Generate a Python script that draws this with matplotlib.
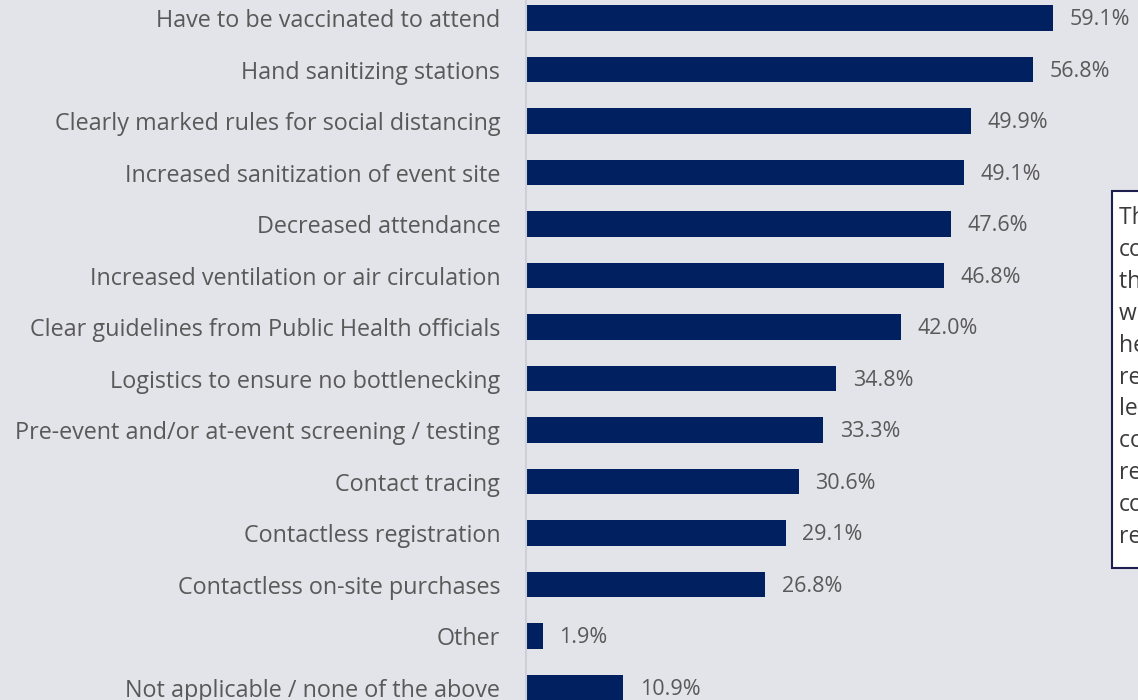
import matplotlib.pyplot as plt
from matplotlib.patches import Rectangle

# Survey: measures that would make attendees feel safer at events
measures = [
    "Have to be vaccinated to attend",
    "Hand sanitizing stations",
    "Clearly marked rules for social distancing",
    "Increased sanitization of event site",
    "Decreased attendance",
    "Increased ventilation or air circulation",
    "Clear guidelines from Public Health officials",
    "Logistics to ensure no bottlenecking",
    "Pre-event and/or at-event screening / testing",
    "Contact tracing",
    "Contactless registration",
    "Contactless on-site purchases",
    "Other",
    "Not applicable / none of the above",
]
shares = [59.1, 56.8, 49.9, 49.1, 47.6, 46.8, 42.0, 34.8, 33.3, 30.6, 29.1, 26.8, 1.9, 10.9]

note_lines = ["The two top", "considerations", "the vaccine", "would help", "helps them",
              "reduce their", "levels of", "concern and", "regain", "confidence",
              "returning"]

bg = "#e3e3ea"
navy = "#002060"
grey = "#595959"

plt.rcParams["font.family"] = ["Open Sans", "DejaVu Sans"]

fig = plt.figure(figsize=(11.38, 7.0), dpi=100, facecolor=bg)
ax = fig.add_axes([0.4622, 0.0, 0.5378, 1.0], facecolor=bg)

ypos = range(len(measures))
ax.barh(ypos, shares, height=0.5, color=navy, zorder=2)

for y, v in zip(ypos, shares):
    ax.text(v + 1.85, y + 0.03, f"{v:.1f}%", va="center", ha="left", fontsize=15.5, color=grey)

ax.set_yticks(list(ypos))
ax.set_yticklabels(measures, fontsize=16.8, color=grey)
ax.tick_params(axis="y", length=0, pad=18.5)
ax.set_xticks([])
ax.set_xlim(0, 68.6)
ax.set_ylim(13.24, -0.35)

for side in ["top", "right", "bottom"]:
    ax.spines[side].set_visible(False)
ax.spines["left"].set_color("#cfcfd8")
ax.spines["left"].set_linewidth(1.5)

# side note box running off the right edge
W, H = 1138, 700
box = Rectangle((1112 / W, 1 - 568 / H), 60 / W, (568 - 191) / H, transform=fig.transFigure,
                facecolor="white", edgecolor="#1f1f4f", linewidth=1.5, zorder=5)
fig.patches.append(box)
for i, line in enumerate(note_lines):
    fig.text(1119 / W, 1 - (218 + i * 31.9) / H, line, fontsize=16.5, color="#3a3a3a",
             va="center", ha="left", zorder=6)

fig.savefig("out.png", dpi=100, facecolor=bg)
